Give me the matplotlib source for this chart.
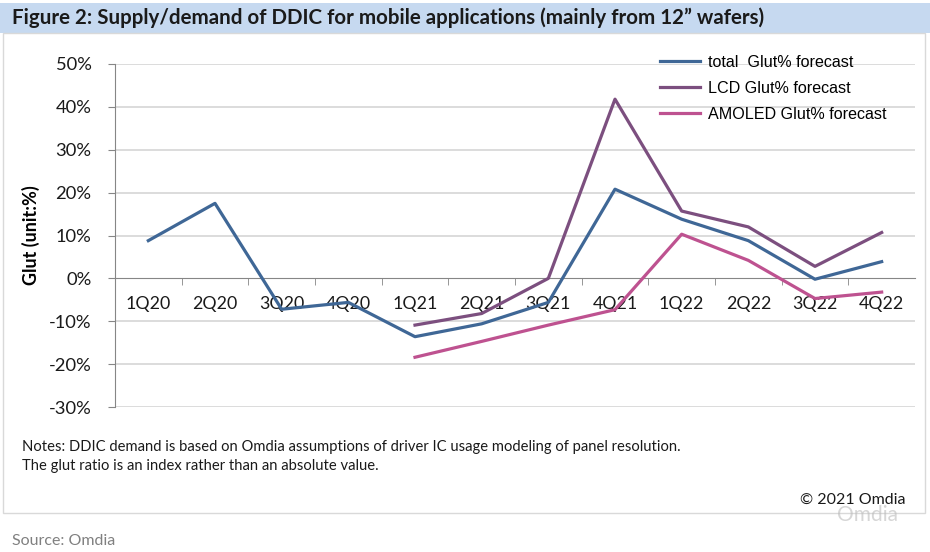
import matplotlib.pyplot as plt
from matplotlib.patches import Rectangle
from matplotlib.ticker import FixedLocator, PercentFormatter

plt.rcParams['axes.unicode_minus'] = False

quarters = ['1Q20', '2Q20', '3Q20', '4Q20', '1Q21', '2Q21', '3Q21', '4Q21',
            '1Q22', '2Q22', '3Q22', '4Q22']
total_glut = [8.8, 17.5, -7.2, -5.6, -13.6, -10.6, -5.6, 20.8, 13.8, 8.8, -0.2, 3.9]
lcd_glut = [None, None, None, None, -10.9, -8.2, 0.0, 41.8, 15.7, 12.0, 2.8, 10.7]
amoled_glut = [None, None, None, None, -18.4, -14.7, -10.9, -7.3, 10.3, 4.2, -4.7, -3.2]
yticks = [-30, -20, -10, 0, 10, 20, 30, 40, 50]

W, H = 930, 552
fig = plt.figure(figsize=(W / 100, H / 100), dpi=100)
fig.patch.set_facecolor('white')

# title band and chart frame, in pixel-ish figure fractions
fig.patches.append(Rectangle((0, 1 - 33 / H), 1, 30 / H, transform=fig.transFigure,
                             facecolor='#C6D9F0', edgecolor='none', zorder=0))
fig.patches.append(Rectangle((3 / W, 1 - 513 / H), 922 / W, 480 / H, transform=fig.transFigure,
                             facecolor='white', edgecolor='#D9D9D9', lw=1.0, zorder=0))

fig.text(12 / W, 1 - 18 / H,
         'Figure 2: Supply/demand of DDIC for mobile applications (mainly from 12\u201d wafers)',
         fontsize=14.8, fontweight='bold', family='Lato', color='#1a1a1a', va='center', ha='left')

ax = fig.add_axes([115 / W, 1 - 407 / H, 800 / W, 343 / H])
ax.set_zorder(3)
ax.set_facecolor('none')

x = list(range(len(quarters)))
ax.plot(x, total_glut, color='#3F6796', lw=2.3, label='total  Glut% forecast', zorder=4)
ax.plot(x, lcd_glut, color='#7C4F7F', lw=2.3, label='LCD Glut% forecast', zorder=3)
ax.plot(x, amoled_glut, color='#BE5290', lw=2.3, label='AMOLED Glut% forecast', zorder=3)

ax.set_xlim(-0.5, len(quarters) - 0.5)
ax.set_ylim(-30, 50)
ax.set_yticks(yticks)
ax.yaxis.set_major_formatter(PercentFormatter(decimals=0))
for v in yticks:
    if v != 0:
        ax.axhline(v, color='#D9D9D9', lw=1.3, zorder=1)

for s in ['top', 'right']:
    ax.spines[s].set_visible(False)
ax.spines['left'].set_color('#868686')
ax.spines['bottom'].set_color('#868686')
ax.spines['bottom'].set_position(('data', 0))
ax.spines['bottom'].set_zorder(2)

ax.set_xticks(x)
ax.set_xticklabels(quarters)
ax.xaxis.set_minor_locator(FixedLocator([i + 0.5 for i in x[:-1]]))
ax.tick_params(axis='x', which='major', length=0, pad=13, labelsize=12.8, labelcolor='#1a1a1a')
ax.tick_params(axis='x', which='minor', length=5, color='#868686', direction='out')
ax.tick_params(axis='y', length=5, color='#868686', pad=12, labelsize=13.2, labelcolor='#1a1a1a')
for lab in ax.get_xticklabels() + ax.get_yticklabels():
    lab.set_family('Lato')

ax.set_ylabel('Glut (unit:%)', fontsize=13, fontweight='bold', family='Lato', labelpad=6)

leg = ax.legend(loc='upper left', bbox_to_anchor=(545 / 800, 1.026), frameon=False,
                prop={'family': 'Liberation Sans', 'size': 11.6}, handlelength=2.5,
                handletextpad=0.45, labelspacing=0.68, borderpad=0, borderaxespad=0)

fig.text(22 / W, 1 - 447 / H,
         'Notes: DDIC demand is based on Omdia assumptions of driver IC usage modeling of panel resolution.',
         fontsize=10.6, family='Lato', color='#1a1a1a', va='center')
fig.text(22 / W, 1 - 466 / H, 'The glut ratio is an index rather than an absolute value.',
         fontsize=10.6, family='Lato', color='#1a1a1a', va='center')
fig.text(905 / W, 1 - 500 / H, '\u00a9 2021 Omdia', fontsize=11.5, family='Lato',
         color='#1a1a1a', va='center', ha='right')
fig.text(898 / W, 1 - 515 / H, 'Omdia', fontsize=15, family='Lato', color='#BBBBBB',
         alpha=0.6, va='center', ha='right')
fig.text(12 / W, 1 - 541 / H, 'Source: Omdia', fontsize=11.5, family='Lato',
         color='#808080', va='center')

fig.savefig('out.png', dpi=100, facecolor='white')
